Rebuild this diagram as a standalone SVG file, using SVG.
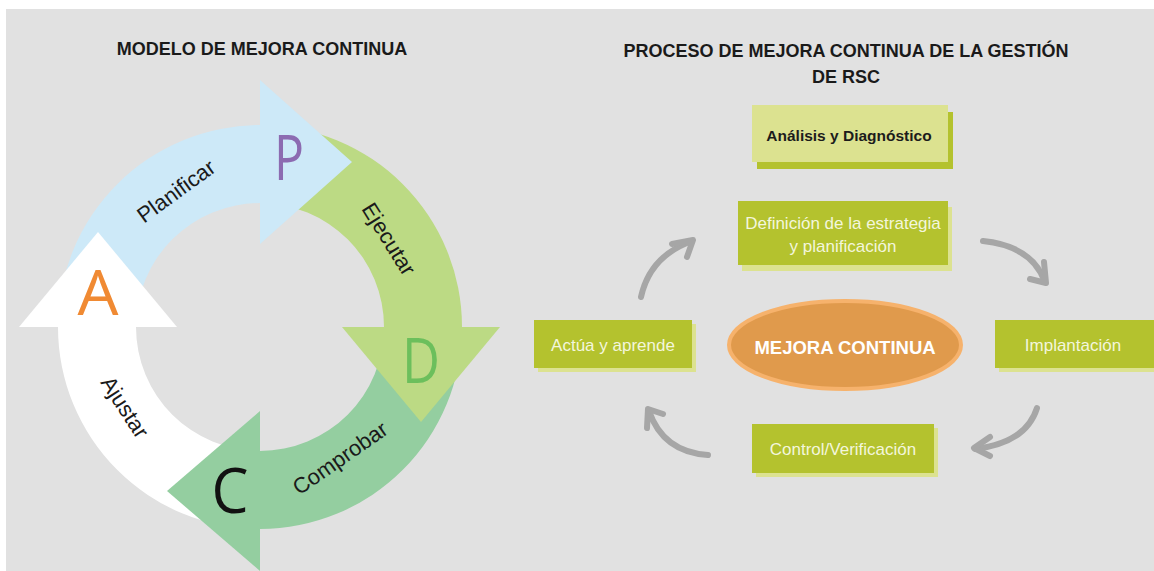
<svg xmlns="http://www.w3.org/2000/svg" width="1154" height="571" viewBox="0 0 1154 571">
<defs>
<style>
.title{font-family:"Liberation Sans",Arial,sans-serif;font-weight:bold;font-size:18px;fill:#1a1a1a;text-anchor:middle}
.lbl{font-family:"Liberation Sans",Arial,sans-serif;font-size:22px;fill:#1a1a1a;text-anchor:middle}
.big{font-family:"Open Sans","Liberation Sans",sans-serif;font-size:62px;text-anchor:middle}
.bx{font-family:"Liberation Sans",Arial,sans-serif;font-size:17px;fill:#f3f6dc;text-anchor:middle}
.olive{fill:#b4c22e}
.pale{fill:#dce290}
.conn{fill:none;stroke:#a6a6a6;stroke-width:6;stroke-linecap:round;stroke-linejoin:round}
</style>
</defs>
<rect x="0" y="0" width="1154" height="571" fill="#ffffff"/>
<rect x="6" y="9" width="1148" height="562" fill="#e1e1e1"/>

<text class="title" x="262" y="55">MODELO DE MEJORA CONTINUA</text>
<text class="title" x="846" y="57">PROCESO DE MEJORA CONTINUA DE LA GESTIÓN</text>
<text class="title" x="846" y="83">DE RSC</text>

<!-- ring bands -->
<g id="ring-bands">
<path d="M58,327 A202,202 0 0 1 260,125 L260,203 A124,124 0 0 0 136,327 Z" fill="#cde9f8"/>
<path d="M260,125 A202,202 0 0 1 462,327 L384,327 A124,124 0 0 0 260,203 Z" fill="#bcda84"/>
<path d="M462,327 A202,202 0 0 1 260,529 L260,451 A124,124 0 0 0 384,327 Z" fill="#94cea0"/>
<path d="M260,529 A202,202 0 0 1 58,327 L136,327 A124,124 0 0 0 260,451 Z" fill="#ffffff"/>
</g>

<g id="step-P">
<polygon points="260,80 260,244 352,162" fill="#cde9f8"/>
<text class="big" x="289" y="180" fill="#8c6bb1" textLength="30" lengthAdjust="spacingAndGlyphs">P</text>
<text class="lbl" transform="translate(176,191) rotate(-36)" dy="0.35em">Planificar</text>
</g>
<g id="step-D">
<polygon points="342,327 500,327 421,422" fill="#bcda84"/>
<text class="big" x="421" y="383" fill="#6cbf5c" textLength="38" lengthAdjust="spacingAndGlyphs">D</text>
<text class="lbl" transform="translate(389,239) rotate(58)" dy="0.35em">Ejecutar</text>
</g>
<g id="step-C">
<polygon points="260,411 260,571 167,491" fill="#94cea0"/>
<text class="big" x="230" y="513" fill="#111111" textLength="37" lengthAdjust="spacingAndGlyphs">C</text>
<text class="lbl" transform="translate(340,458) rotate(-35)" dy="0.35em">Comprobar</text>
</g>
<g id="step-A">
<polygon points="19,327 177,327 98,232" fill="#ffffff"/>
<text class="big" x="98" y="315" fill="#f08a33" textLength="41" lengthAdjust="spacingAndGlyphs">A</text>
<text class="lbl" transform="translate(125,407) rotate(57)" dy="0.35em">Ajustar</text>
</g>

<!-- right side -->
<g id="analisis">
<rect x="757" y="112" width="196" height="57" class="olive"/>
<rect x="752" y="105" width="196" height="57" class="pale"/>
<text x="849" y="141" font-family="Liberation Sans, Arial, sans-serif" font-weight="bold" font-size="15.5" fill="#1c1c1c" text-anchor="middle">Análisis y Diagnóstico</text>
</g>
<g id="definicion">
<rect x="742" y="207" width="210" height="64" class="pale"/>
<rect x="738" y="201" width="210" height="64" class="olive"/>
<text class="bx" x="843" y="229">Definición de la estrategia</text>
<text class="bx" x="843" y="252">y planificación</text>
</g>
<g id="actua">
<rect x="538" y="324" width="158" height="48" class="pale"/>
<rect x="534" y="320" width="158" height="48" class="olive"/>
<text class="bx" x="613" y="351">Actúa y aprende</text>
</g>
<g id="mejora">
<ellipse cx="845" cy="345" rx="116" ry="44" fill="#e09a4c" stroke="#f6b26c" stroke-width="4"/>
<text x="845" y="354" font-family="Liberation Sans, Arial, sans-serif" font-weight="bold" font-size="18.5" fill="#ffffff" text-anchor="middle">MEJORA CONTINUA</text>
</g>
<g id="implantacion">
<rect x="999" y="324" width="170" height="48" class="pale"/>
<rect x="995" y="320" width="170" height="48" class="olive"/>
<text class="bx" x="1073" y="351">Implantación</text>
</g>
<g id="control">
<rect x="756" y="428" width="182" height="49" class="pale"/>
<rect x="752" y="424" width="182" height="49" class="olive"/>
<text class="bx" x="843" y="455">Control/Verificación</text>
</g>

<g id="connectors">
<path class="conn" d="M641,297 Q650,256 692,241"/>
<polyline class="conn" points="672,244 693,240 687,257"/>
<path class="conn" d="M983,241 Q1032,246 1045,282"/>
<polyline class="conn" points="1044,262 1046,283 1030,279"/>
<path class="conn" d="M1037,408 Q1026,443 975,449"/>
<polyline class="conn" points="990,437 974,448 990,456"/>
<path class="conn" d="M708,455 Q663,452 649,411"/>
<polyline class="conn" points="647,428 648,409 663,414"/>
</g>
</svg>
